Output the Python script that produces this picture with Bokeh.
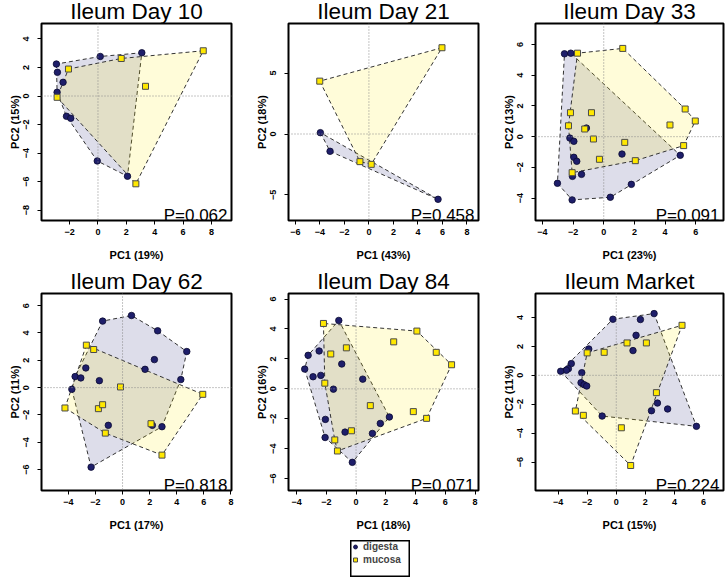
import numpy as np
from bokeh.plotting import figure
from bokeh.models import Range1d, FixedTicker, Label, Span, Legend, LegendItem, Spacer
from bokeh.layouts import row, column
from bokeh.embed import file_html
from bokeh.resources import INLINE

# ---------------- data ----------------
titles = ["Ileum Day 10", "Ileum Day 21", "Ileum Day 33",
          "Ileum Day 62", "Ileum Day 84", "Ileum Market"]
pc1_labels = ["PC1 (19%)", "PC1 (43%)", "PC1 (23%)", "PC1 (17%)", "PC1 (18%)", "PC1 (15%)"]
pc2_labels = ["PC2 (15%)", "PC2 (18%)", "PC2 (13%)", "PC2 (11%)", "PC2 (16%)", "PC2 (11%)"]
p_values = ["P=0.062", "P=0.458", "P=0.091", "P=0.818", "P=0.071", "P=0.224"]
groups = ["digesta", "mucosa"]

# Ileum Day 10
d10_dig_x = [-2.93, -2.86, -2.46, -2.88, -2.22, -1.92, 0.16, 3.09, -0.05, 2.08]
d10_dig_y = [2.24, 1.66, 0.96, 0.26, -1.42, -1.56, 2.77, 3.03, -4.55, -5.62]
d10_muc_x = [-2.88, -2.08, 1.64, 7.42, 3.35, 2.67]
d10_muc_y = [-0.09, 1.89, 2.63, 3.17, 0.68, -6.15]

# Ileum Day 21
d21_dig_x = [-3.96, -3.17, 5.64]
d21_dig_y = [0.11, -1.42, -5.36]
d21_muc_x = [-4.01, 5.96, -0.73, 0.19]
d21_muc_y = [4.34, 7.08, -2.27, -2.49]

# Ileum Day 33
d33_dig_x = [-2.56, -2.15, -2.21, -1.95, -1.95, -1.76, -2.04, -1.45, -3.02, -2.06,
             0.43, 1.80, 1.19, 4.99, -1.13]
d33_dig_y = [5.39, 5.43, -0.09, -0.30, -1.34, -1.60, -2.58, -2.45, -3.03, -4.11,
             -3.94, -3.10, -1.13, -1.21, 0.56]
d33_muc_x = [-1.71, 1.24, 5.31, 5.97, 5.21, 4.32, -2.17, -2.30, -0.80, -1.24,
             -0.67, 1.37, -0.28, 2.06, -2.06]
d33_muc_y = [5.43, 5.74, 1.80, 1.02, -0.58, 0.76, 1.56, 0.71, 1.56, 0.50,
             -0.15, -0.37, -1.47, -1.56, -2.34]

# Ileum Day 62
d62_dig_x = [-1.47, 0.66, 2.59, 4.74, 2.35, 1.66, 4.30, -2.71, -3.50, -3.08,
             -3.74, -1.71, -1.05, 2.20, 2.91, -2.32]
d62_dig_y = [4.87, 5.28, 4.16, 2.64, 2.05, 1.34, 0.59, 1.44, 0.81, 0.71,
             -0.12, 0.51, -2.76, -2.76, -2.86, -5.82]
d62_muc_x = [-2.67, -2.13, -0.15, -4.25, -1.78, -1.47, -1.27, 2.10, 2.91, 5.92]
d62_muc_y = [3.11, 2.79, 0.05, -1.49, -1.54, -1.25, -3.33, -2.64, -4.94, -0.49]

# Ileum Day 84
d84_dig_x = [-1.16, -3.22, -3.45, -2.48, -2.89, -2.37, -0.96, -1.52, 0.45, -2.06,
             -2.08, -0.74, 1.10, 1.63, 2.24, -0.25]
d84_dig_y = [4.57, 2.24, 1.32, 2.53, 0.81, 0.90, 1.66, -0.02, 0.65, -2.04,
             -3.25, -2.89, -2.98, -2.31, -1.88, -4.91]
d84_muc_x = [-2.19, 4.09, 2.53, 5.39, 6.42, -1.70, -0.65, -2.10, 0.96, 3.85,
             4.74, -0.31, -1.43, -1.25]
d84_muc_y = [4.37, 3.86, 3.14, 2.44, 1.61, 2.33, 2.74, 0.38, -1.12, -1.52,
             -1.97, -2.80, -3.41, -4.15]

# Ileum Market
dmk_dig_x = [-0.23, 1.66, 2.60, 1.36, 1.15, -1.89, -3.09, -3.29, -3.43, -3.82,
             -2.37, -2.42, -2.21, -2.03, -0.97, 2.42, 2.83, 3.53, 5.51]
dmk_dig_y = [3.88, 3.86, 4.27, 2.77, 1.71, 1.82, 0.81, 0.46, 0.35, 0.28,
             0.18, -0.51, -0.65, -0.74, -2.82, -2.45, -1.92, -2.33, -3.53]
dmk_muc_x = [4.52, 0.74, 2.07, -2.00, -0.83, 2.76, -2.81, -2.26, 0.35, 0.99]
dmk_muc_y = [3.46, 2.24, 2.24, 1.55, 1.59, -1.20, -2.47, -2.77, -3.63, -6.24]

# axis limits and tick values
x_limits = [(-3.98, 9.41), (-6.56, 8.94), (-4.45, 7.81),
            (-5.98, 8.04), (-4.54, 8.23), (-5.55, 7.37)]
y_limits = [(-8.72, 5.08), (-7.10, 9.07), (-5.45, 7.36),
            (-7.53, 6.89), (-6.79, 6.37), (-7.97, 5.66)]
x_ticks = [[-2, 0, 2, 4, 6, 8], [-6, -4, -2, 0, 2, 4, 6, 8], [-4, -2, 0, 2, 4, 6],
           [-4, -2, 0, 2, 4, 6, 8], [-4, -2, 0, 2, 4, 6, 8], [-4, -2, 0, 2, 4, 6]]
y_ticks = [[-8, -6, -4, -2, 0, 2, 4], [-5, 0, 5], [-4, -2, 0, 2, 4, 6],
           [-6, -4, -2, 0, 2, 4, 6], [-6, -4, -2, 0, 2, 4, 6], [-6, -4, -2, 0, 2, 4]]

dig_x = [d10_dig_x, d21_dig_x, d33_dig_x, d62_dig_x, d84_dig_x, dmk_dig_x]
dig_y = [d10_dig_y, d21_dig_y, d33_dig_y, d62_dig_y, d84_dig_y, dmk_dig_y]
muc_x = [d10_muc_x, d21_muc_x, d33_muc_x, d62_muc_x, d84_muc_x, dmk_muc_x]
muc_y = [d10_muc_y, d21_muc_y, d33_muc_y, d62_muc_y, d84_muc_y, dmk_muc_y]

# ---------------- styles ----------------
FONT = "Liberation Sans"
DIG_COLOR = "#1e1e6a"
MUC_COLOR = "#ffe800"
DIG_FILL = "#191970"
MUC_FILL = "#ffee00"
DIG_STYLE = dict(marker="circle", size=6.5, fill_color=DIG_COLOR,
                 line_color="#0a0a30", line_width=0.8)
MUC_STYLE = dict(marker="square", size=6, fill_color=MUC_COLOR,
                 line_color="#4a4a4a", line_width=1)


def convex_hull(xs, ys):
    pts = sorted(set(zip(xs, ys)))
    if len(pts) <= 2:
        return pts

    def cross(o, a, b):
        return (a[0] - o[0]) * (b[1] - o[1]) - (a[1] - o[1]) * (b[0] - o[0])

    lower = []
    for pt in pts:
        while len(lower) >= 2 and cross(lower[-2], lower[-1], pt) <= 0:
            lower.pop()
        lower.append(pt)
    upper = []
    for pt in reversed(pts):
        while len(upper) >= 2 and cross(upper[-2], upper[-1], pt) <= 0:
            upper.pop()
        upper.append(pt)
    return lower[:-1] + upper[:-1]


def make_panel(i):
    col = i % 3
    r = i // 3
    fw = 190 if col < 2 else 188
    right = 16 if col < 2 else 5
    bottom = 43 if r == 0 else 50
    x0, x1 = x_limits[i]
    y0, y1 = y_limits[i]
    p = figure(frame_width=fw, frame_height=197,
               min_border_left=41, min_border_right=right,
               min_border_top=30, min_border_bottom=bottom,
               x_range=Range1d(x0, x1), y_range=Range1d(y0, y1),
               output_backend="svg", toolbar_location=None, tools="")
    p.grid.visible = False
    p.outline_line_color = "black"
    p.outline_line_width = 2
    p.background_fill_color = "white"
    p.border_fill_color = "white"

    p.title.text = titles[i]
    p.title.align = "center"
    p.title.text_font = FONT
    p.title.text_font_size = "22.5px"
    p.title.text_font_style = "normal"
    p.title.text_color = "black"
    p.title.standoff = 0
    p.title.offset = 0

    for ax, ticks, lab in ((p.xaxis[0], x_ticks[i], pc1_labels[i]),
                           (p.yaxis[0], y_ticks[i], pc2_labels[i])):
        ax.ticker = FixedTicker(ticks=ticks)
        ax.axis_line_color = None
        ax.major_tick_in = 0
        ax.major_tick_out = 4
        ax.major_tick_line_color = "black"
        ax.minor_tick_line_color = None
        ax.major_label_text_font = FONT
        ax.major_label_text_font_size = "9px"
        ax.major_label_text_font_style = "bold"
        ax.major_label_text_color = "black"
        ax.axis_label = lab
        ax.axis_label_text_font = FONT
        ax.axis_label_text_font_size = "11px"
        ax.axis_label_text_font_style = "bold"
        ax.axis_label_text_color = "black"
    p.xaxis.major_label_standoff = 4
    p.xaxis.axis_label_standoff = 11
    p.yaxis.major_label_orientation = "vertical"
    p.yaxis.major_label_standoff = 8
    p.yaxis.axis_label_standoff = 0

    # zero reference lines
    p.add_layout(Span(location=0, dimension="height", line_color="#8a8a8a",
                      line_dash="1 2", line_width=1))
    p.add_layout(Span(location=0, dimension="width", line_color="#8a8a8a",
                      line_dash="1 2", line_width=1))

    # hulls
    for xs, ys, fc in ((dig_x[i], dig_y[i], DIG_FILL), (muc_x[i], muc_y[i], MUC_FILL)):
        h = convex_hull(xs, ys)
        p.patch([q[0] for q in h], [q[1] for q in h], fill_color=fc,
                fill_alpha=0.15, line_color="#333333", line_dash="4 3",
                line_width=1)

    p.scatter(dig_x[i], dig_y[i], **DIG_STYLE)
    p.scatter(muc_x[i], muc_y[i], **MUC_STYLE)

    # P value
    p.add_layout(Label(x=x1, y=y0, x_offset=-4, y_offset=5, text=p_values[i],
                       text_align="right", text_baseline="alphabetic",
                       text_font=FONT, text_font_size="17px",
                       text_color="black"))
    return p


figs = [make_panel(i) for i in range(6)]

# legend figure: its outline forms the legend box
lf = figure(width=60, height=37, min_border=0, x_range=Range1d(0, 1),
            y_range=Range1d(0, 1), x_axis_location=None, y_axis_location=None,
            output_backend="svg", toolbar_location=None, tools="")
lf.grid.visible = False
lf.outline_line_color = "black"
lf.outline_line_width = 2
lf.background_fill_color = "white"
lf.border_fill_color = "white"
rc = lf.scatter([-5], [-5], **DIG_STYLE)
rs = lf.scatter([-5], [-5], **MUC_STYLE)
legend = Legend(items=[LegendItem(label=groups[0], renderers=[rc]),
                       LegendItem(label=groups[1], renderers=[rs])],
                location="top_left", orientation="vertical",
                border_line_color=None,
                background_fill_alpha=0,
                label_text_font=FONT, label_text_font_size="10px",
                label_text_font_style="bold",
                glyph_width=10, glyph_height=13, label_height=13,
                label_standoff=3, spacing=0, padding=6, margin=0)
lf.add_layout(legend)

layout = column(row(figs[0], figs[1], figs[2]),
                row(figs[3], figs[4], figs[5]),
                row(Spacer(width=350, height=37), lf),
                margin=(-7, 0, 0, 0))

open("out.html", "w").write(file_html(layout, INLINE))
